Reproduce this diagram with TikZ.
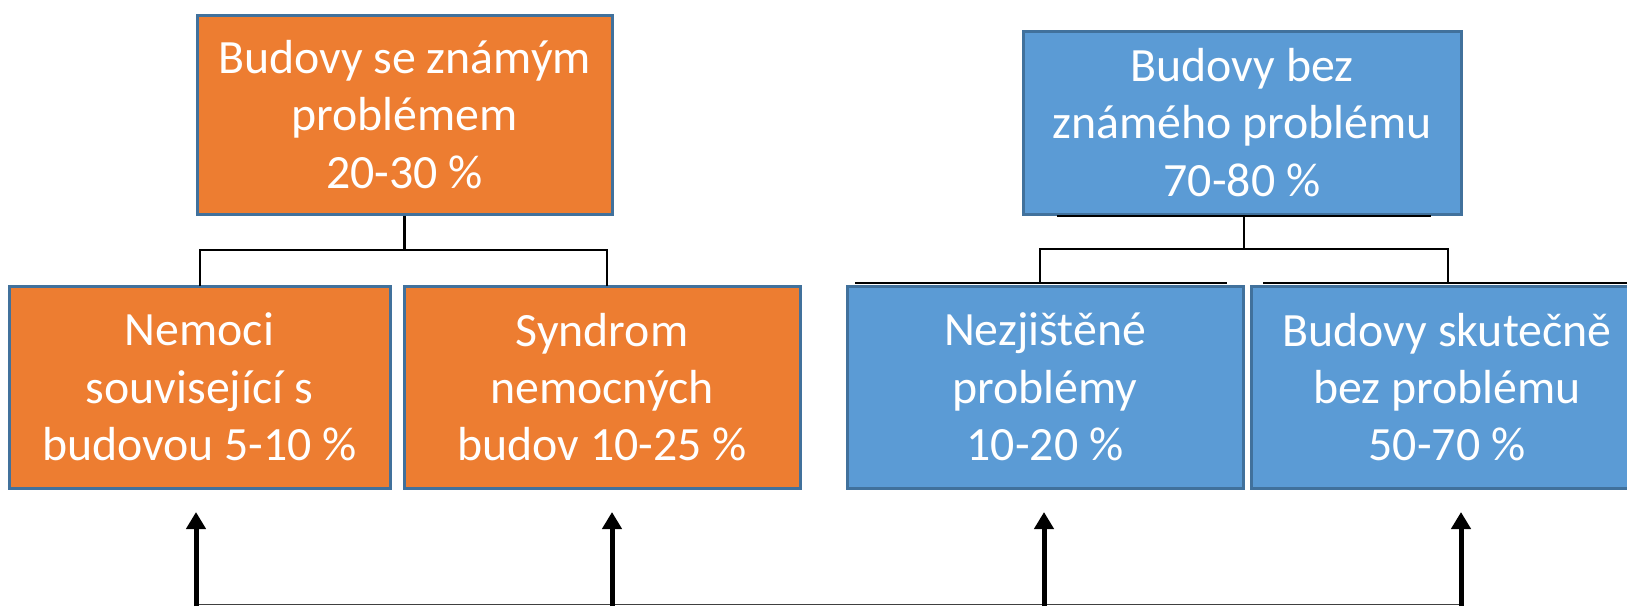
\documentclass[tikz,border=0pt]{standalone}
\usepackage{fontspec}
\setmainfont{Carlito}
\usetikzlibrary{arrows.meta}
\definecolor{orangeF}{HTML}{ED7D31}
\definecolor{blueF}{HTML}{5B9BD5}
\definecolor{edgeC}{HTML}{41719C}
\begin{document}
\begin{tikzpicture}[x=0.5pt,y=-0.5pt,
  box/.style={draw=edgeC, line width=1.5pt, text=white, align=center, inner sep=0pt,
              font=\fontsize{23.9}{28.7}\selectfont},
  orangebox/.style={box, fill=orangeF},
  bluebox/.style={box, fill=blueF},
  link/.style={draw=black, line width=1.1pt},
  extra/.style={draw=black, line width=1.1pt},
  uparrow/.style={draw=black, line width=2.5pt, -{Triangle[length=8.5pt,width=9.5pt]}},
  bottomline/.style={draw=black!75, line width=0.6pt}]
\useasboundingbox (0,0) rectangle (1627,606);
% top boxes
\node[orangebox, minimum width=207.5pt, minimum height=99.5pt] (A) at (404.5,114.5)
  {Budovy se známým\\problémem\\20-30 \%};
\node[bluebox, minimum width=219pt, minimum height=91.5pt] (B) at (1242,122.5)
  {Budovy bez\\známého problému\\70-80 \%};
% bottom boxes
\node[orangebox, minimum width=190.5pt, minimum height=101pt] (C1) at (199.5,387)
  {Nemoci\\související s\\budovou 5-10 \%};
\node[orangebox, minimum width=198pt, minimum height=101pt] (C2) at (602,387)
  {Syndrom\\nemocných\\budov 10-25 \%};
\node[bluebox, minimum width=198pt, minimum height=101pt] (C3) at (1045,387)
  {Nezjištěné\\problémy\\10-20 \%};
\node[bluebox, minimum width=196pt, minimum height=101pt] (C4) at (1447,387)
  {Budovy skutečně\\bez problému\\50-70 \%};
% extra black lines
\coordinate (eB1) at (1057,216); \coordinate (eB2) at (1431,216);
\coordinate (e31) at (855,283);  \coordinate (e32) at (1227,283);
\coordinate (e41) at (1263,283); \coordinate (e42) at (1627,283);
\draw[extra] (eB1) -- (eB2);
\draw[extra] (e31) -- (e32);
\draw[extra] (e41) -- (e42);
% tree connectors
\coordinate (jL) at (404.5,250);
\coordinate (c1top) at (200,286);
\coordinate (c2top) at (607,286);
\draw[link] (A.south) -- (jL);
\draw[link] (c1top) |- (jL) -| (c2top);
\coordinate (jR) at (1244,249);
\coordinate (btop) at (1244,216);
\coordinate (c3top) at (1040,283);
\coordinate (c4top) at (1448,283);
\draw[link] (btop) -- (jR);
\draw[link] (c3top) |- (jR) -| (c4top);
% bottom arrows
\coordinate (b1) at (196,606);  \coordinate (t1) at (196,512);
\coordinate (b2) at (612,606);  \coordinate (t2) at (612,512);
\coordinate (b3) at (1044,606); \coordinate (t3) at (1044,512);
\coordinate (b4) at (1461,606); \coordinate (t4) at (1461,512);
\coordinate (h1) at (196,604.5); \coordinate (h4) at (1461,604.5);
\draw[bottomline] (h1) -- (h4);
\draw[uparrow] (b1) -- (t1);
\draw[uparrow] (b2) -- (t2);
\draw[uparrow] (b3) -- (t3);
\draw[uparrow] (b4) -- (t4);
\end{tikzpicture}
\end{document}
